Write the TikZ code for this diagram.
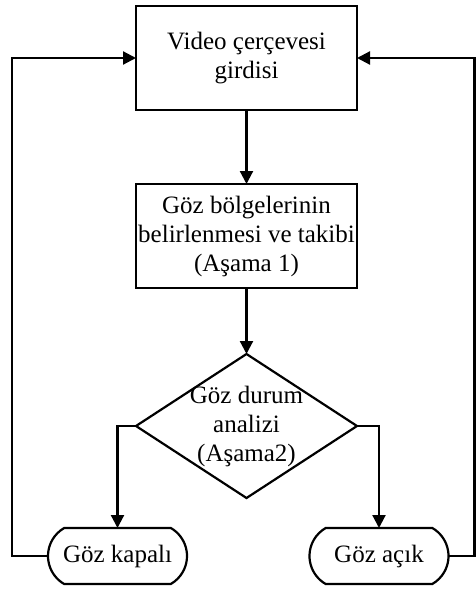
\documentclass[tikz,border=0pt]{standalone}
\usepackage{fontspec}
\setmainfont{Liberation Serif}
\usetikzlibrary{arrows.meta,positioning,shapes.geometric,shapes.misc}

\begin{document}
\begin{tikzpicture}[
    node distance=74pt,
    every node/.style={font=\fontsize{25}{29}\selectfont},
    block/.style={
        draw,
        line width=2.2pt,
        align=center,
        minimum width=221pt,
        minimum height=104pt,
        inner sep=0pt,
        outer sep=0pt
    },
    decision/.style={
        draw,
        diamond,
        line width=2.2pt,
        align=center,
        minimum width=221pt,
        minimum height=144pt,
        inner sep=-40pt,
        outer sep=0pt
    },
    terminal/.style={
        draw,
        rounded rectangle,
        rounded rectangle arc length=120,
        line width=2.2pt,
        minimum width=139pt,
        minimum height=56pt,
        inner sep=0pt,
        outer sep=0pt
    },
    line/.style={-{Triangle[length=13pt,width=13pt]}, line width=2.2pt}
]
\useasboundingbox (0,0) rectangle (475pt,-589pt);

% ---- Main column ----
\node[block] (video) at (246.5pt,-58pt) {Video çerçevesi\\girdisi};
\node[block, below=74pt of video] (track) {Göz bölgelerinin\\belirlenmesi ve takibi\\(Aşama 1)};

% ---- Decision ----
\node[decision, below=66pt of track] (mode) {Göz durum\\analizi\\(Aşama2)};

% ---- Outcomes ----
\node[terminal, below=30pt of mode, xshift=-129pt] (closed) {Göz kapalı};
\node[terminal, below=30pt of mode, xshift=132.5pt] (open) {Göz açık};

% ---- Connections ----
\draw[line] (video) -- (track);
\draw[line] (track) -- (mode);

\draw[line] (mode.west) -| (closed.north);
\draw[line] (mode.east) -| (open.north);

% ---- Feedback loops ----
\draw[line] (closed.west) -- ++(-36pt,0) |- (video.west);
\draw[line] (open.east) -- ++(26pt,0) |- (video.east);

\end{tikzpicture}
\end{document}
